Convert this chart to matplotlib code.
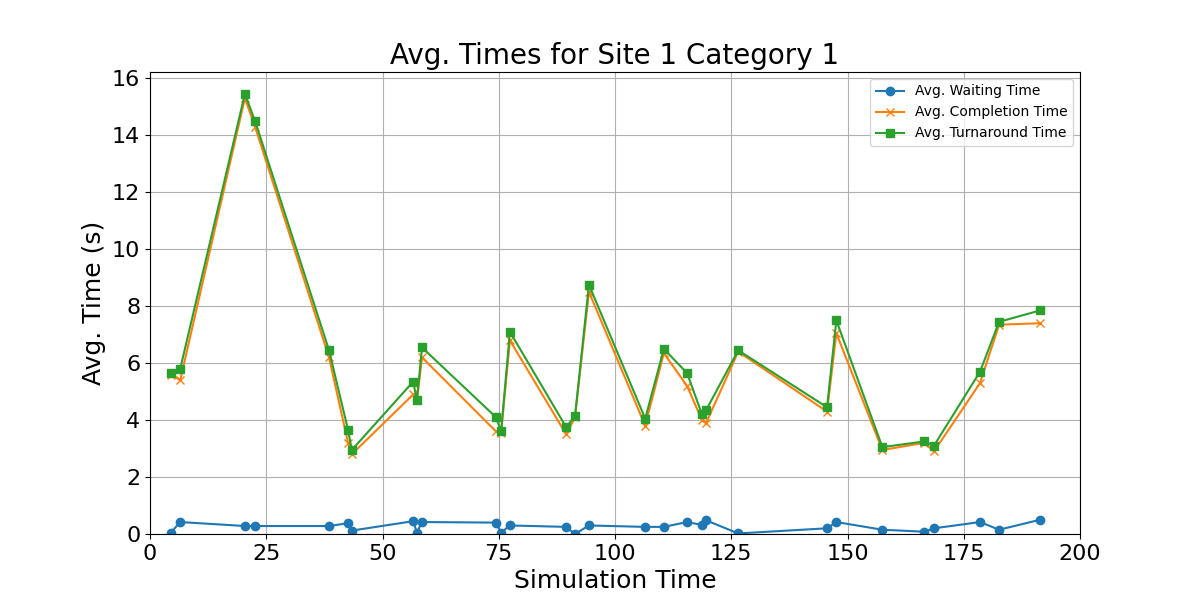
import matplotlib
matplotlib.use("Agg")
import matplotlib.pyplot as plt

sim_time = [4.5, 6.5, 20.4, 22.6, 38.5, 42.6, 43.4, 56.6, 57.4, 58.5, 74.4, 75.5, 77.4,
            89.5, 91.4, 94.4, 106.5, 110.5, 115.5, 118.7, 119.6, 126.5, 145.6, 147.6,
            157.5, 166.5, 168.6, 178.5, 182.6, 191.4]
waiting = [0.05, 0.42, 0.28, 0.28, 0.28, 0.38, 0.12, 0.45, 0.05, 0.42, 0.4, 0.05, 0.3,
           0.25, 0.0, 0.3, 0.25, 0.25, 0.42, 0.32, 0.48, 0.02, 0.2, 0.42,
           0.15, 0.08, 0.2, 0.42, 0.15, 0.5]
completion = [5.6, 5.4, 15.3, 14.3, 6.2, 3.2, 2.8, 4.9, 4.7, 6.2, 3.6, 3.55, 6.8,
              3.5, 4.1, 8.5, 3.8, 6.35, 5.2, 4.0, 3.9, 6.4, 4.3, 7.05,
              2.95, 3.2, 2.9, 5.3, 7.35, 7.4]
turnaround = [5.65, 5.8, 15.45, 14.5, 6.45, 3.65, 2.95, 5.35, 4.7, 6.55, 4.1, 3.6, 7.1,
              3.75, 4.15, 8.75, 4.05, 6.5, 5.65, 4.2, 4.35, 6.45, 4.45, 7.5,
              3.05, 3.25, 3.1, 5.7, 7.45, 7.85]

fig, ax = plt.subplots(figsize=(12, 6), dpi=100)
ax.plot(sim_time, waiting, marker='o', label='Avg. Waiting Time')
ax.plot(sim_time, completion, marker='x', label='Avg. Completion Time')
ax.plot(sim_time, turnaround, marker='s', label='Avg. Turnaround Time')
ax.set_xlim(0, 200)
ax.set_ylim(bottom=0)
ax.set_title('Avg. Times for Site 1 Category 1', fontsize=20)
ax.set_xlabel('Simulation Time', fontsize=18)
ax.set_ylabel('Avg. Time (s)', fontsize=18)
ax.tick_params(labelsize=16)
ax.grid(True)
ax.legend(loc='upper right', fontsize=10)
fig.savefig('out.png')
